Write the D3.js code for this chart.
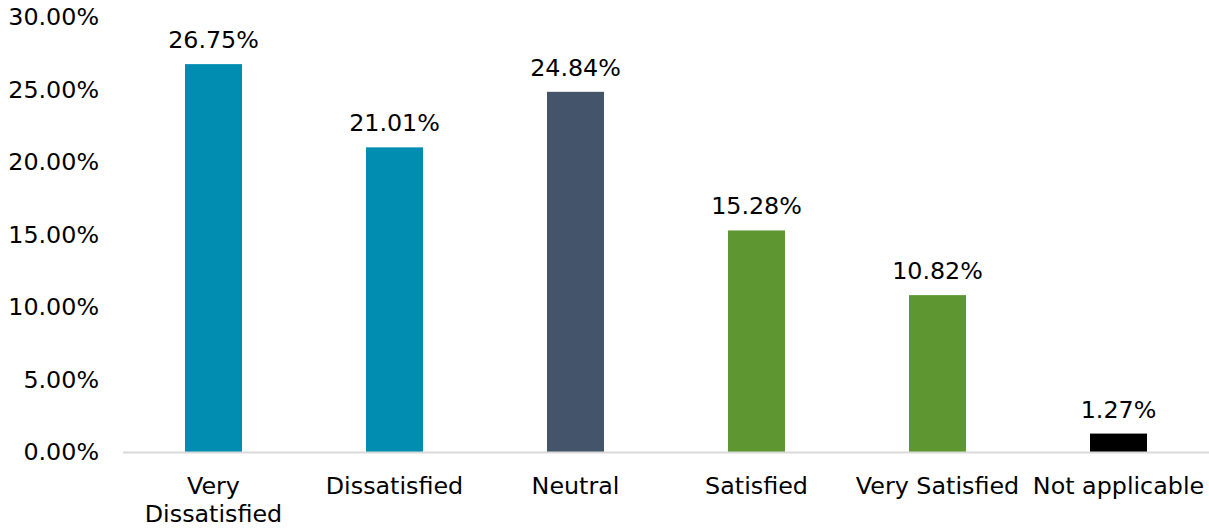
<!DOCTYPE html>
<html><head><meta charset="utf-8">
<script src="https://cdn.jsdelivr.net/npm/d3@7"></script>
<style>body{margin:0;background:#fff;} text{font-family:"DejaVu Sans",Verdana,sans-serif;}</style>
</head><body>
<svg id="c" width="1209" height="529"></svg>
<script>
const categories = ["Very Dissatisfied","Dissatisfied","Neutral","Satisfied","Very Satisfied","Not applicable"];
const values = [26.75, 21.01, 24.84, 15.28, 10.82, 1.27];
const colors = ["#008DB1","#008DB1","#44546A","#5E9732","#5E9732","#000000"];
const yTicks = [0,5,10,15,20,25,30];

const svg = d3.select("#c");
const fs = 23.8;
const x = d3.scaleBand().domain(categories).range([123,1209]).paddingInner(0.685).paddingOuter(0.3425);
const y = d3.scaleLinear().domain([0,30]).range([452,17]);

svg.selectAll("rect.bar").data(categories).join("rect")
  .attr("x", d=>x(d)).attr("width", x.bandwidth())
  .attr("y", (d,i)=>y(values[i])).attr("height", (d,i)=>y(0)-y(values[i]))
  .attr("fill", (d,i)=>colors[i]);

svg.append("line").attr("x1",123).attr("x2",1209).attr("y1",y(0)+0.5).attr("y2",y(0)+0.5)
  .attr("stroke","#D9D9D9").attr("stroke-width",2);

svg.selectAll("text.yt").data(yTicks).join("text")
  .attr("x",99).attr("y",d=>y(d)).attr("dy","0.35em").attr("text-anchor","end")
  .attr("font-size",fs).attr("fill","#000").text(d=>d.toFixed(2)+"%");

svg.selectAll("text.vl").data(categories).join("text")
  .attr("x", d=>x(d)+x.bandwidth()/2).attr("y",(d,i)=>y(values[i])-16)
  .attr("text-anchor","middle").attr("font-size",fs).attr("fill","#000")
  .text((d,i)=>values[i].toFixed(2)+"%");

const step = x.step();
categories.forEach(c=>{
  const t = svg.append("text").attr("text-anchor","middle").attr("font-size",fs).attr("fill","#000")
    .attr("x", x(c)+x.bandwidth()/2).attr("y", 494);
  t.text(c);
  if (t.node().getComputedTextLength() > step) {
    t.text(null);
    const words = c.split(" ");
    words.forEach((w,i)=>t.append("tspan").attr("x", x(c)+x.bandwidth()/2).attr("y",494+i*28).text(w));
  }
});
</script>
</body></html>
